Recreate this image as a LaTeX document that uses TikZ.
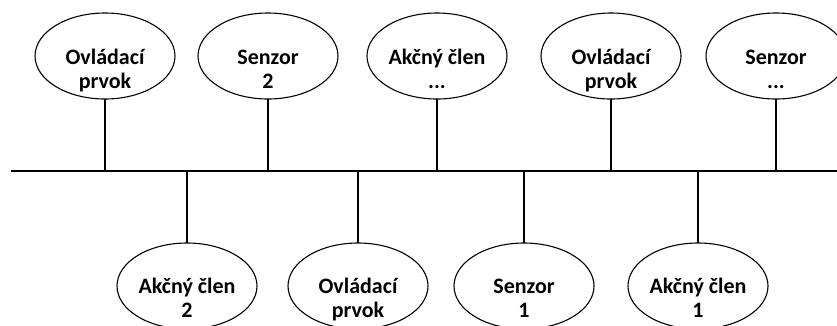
\documentclass[tikz,border=0pt]{standalone}
\usepackage{fontspec}
\setmainfont{Carlito}
\usetikzlibrary{shapes.geometric}
\begin{document}
\begin{tikzpicture}[x=1pt,y=-1pt,
  wire/.style={line width=1.1pt,black},
  unit/.style={ellipse,draw,line width=1.1pt,minimum width=140pt,minimum height=86pt,inner sep=0pt,outer sep=0pt},
  caption/.style={align=center,font=\fontsize{22}{23.5}\selectfont\bfseries,inner sep=0pt,anchor=base}]
\useasboundingbox (0,0) rectangle (837,325);
\begin{scope}
\clip (0,0) rectangle (837,325);
% bus line
\coordinate (busL) at (11,171);
\coordinate (busR) at (840,171);
\draw[wire] (busL) -- (busR);

% devices above the bus (caption base = baseline of its last line)
\node[unit] (t1) at (105,56) {};
\node[unit] (t2) at (268,56) {};
\node[unit] (t3) at (437,56) {};
\node[unit] (t4) at (611,56) {};
\node[unit] (t5) at (776,56) {};
\node[caption] (l1) at ([yshift=-32pt]t1.center) {Ovládací\\prvok};
\node[caption] (l2) at ([yshift=-32pt]t2.center) {Senzor\\2};
\node[caption] (l3) at ([yshift=-32pt]t3.center) {Akčný člen\\...};
\node[caption] (l4) at ([yshift=-32pt]t4.center) {Ovládací\\prvok};
\node[caption] (l5) at ([yshift=-32pt]t5.center) {Senzor\\...};
\foreach \n in {t1,t2,t3,t4,t5}
  \draw[wire] (\n.south) -- (\n.south |- busL);

% devices below the bus
\node[unit] (b1) at (187,286) {};
\node[unit] (b2) at (358,286) {};
\node[unit] (b3) at (524,286) {};
\node[unit] (b4) at (698,286) {};
\node[caption] (m1) at ([yshift=-31pt]b1.center) {Akčný člen\\2};
\node[caption] (m2) at ([yshift=-31pt]b2.center) {Ovládací\\prvok};
\node[caption] (m3) at ([yshift=-31pt]b3.center) {Senzor\\1};
\node[caption] (m4) at ([yshift=-31pt]b4.center) {Akčný člen\\1};
\foreach \n in {b1,b2,b3,b4}
  \draw[wire] (\n.north) -- (\n.north |- busL);
\end{scope}
\end{tikzpicture}
\end{document}
